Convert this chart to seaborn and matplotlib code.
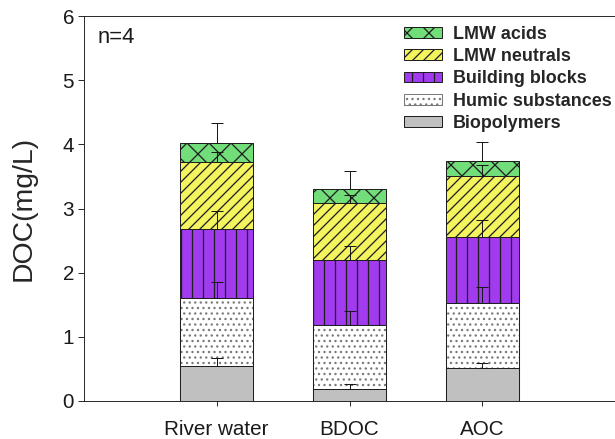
import matplotlib
matplotlib.use("Agg")
import matplotlib.pyplot as plt
import seaborn as sns
import numpy as np
from matplotlib.patches import Patch

# ---- data ----
categories = ["River water", "BDOC", "AOC"]
biopolymers = [0.55, 0.19, 0.52]
humic_substances = [1.05, 0.99, 1.00]
building_blocks = [1.08, 1.02, 1.04]
lmw_neutrals = [1.05, 0.88, 0.95]
lmw_acids = [0.29, 0.22, 0.23]

biopolymers_err = [0.12, 0.07, 0.07]
humic_err = [0.26, 0.22, 0.26]
building_err = [0.28, 0.22, 0.26]
neutrals_err = [0.15, 0.13, 0.17]
acids_err = [0.31, 0.28, 0.30]

layer_names = ["Biopolymers", "Humic substances", "Building blocks",
               "LMW neutrals", "LMW acids"]
layer_values = [biopolymers, humic_substances, building_blocks,
                lmw_neutrals, lmw_acids]
layer_errors = [biopolymers_err, humic_err, building_err, neutrals_err,
                acids_err]
layer_colors = ["#C0C0C0", "#FFFFFF", "#A23BEF", "#F4F45E", "#72DE7A"]
layer_hatches = ["", "..", "|", "//", "x"]
hatch_colors = ["#1f1f1f", "#7a7a7a", "#1f1f1f", "#1f1f1f", "#1f1f1f"]

sns.set_style("ticks")
plt.rcParams["font.family"] = ["Liberation Sans", "DejaVu Sans"]
plt.rcParams["hatch.linewidth"] = 1.4

DPI = 66
fig = plt.figure(figsize=(615 / DPI, 439 / DPI), dpi=DPI)
ax = fig.add_axes([84 / 615, 38 / 439, 531 / 615, 385 / 439])

cum = np.cumsum(np.array(layer_values), axis=0)

# draw from top layer to bottom so lower layers overlay cumulative bars
for i in range(len(layer_names) - 1, -1, -1):
    sns.barplot(x=categories, y=cum[i], color=layer_colors[i],
                saturation=1, errorbar=None, width=0.55,
                hatch=layer_hatches[i], edgecolor=hatch_colors[i],
                linewidth=1.1, ax=ax)
    if hatch_colors[i] != "#1f1f1f":
        # dark outline over the lighter hatch
        sns.barplot(x=categories, y=cum[i], color="#1f1f1f", fill=False,
                    saturation=1, errorbar=None, width=0.55,
                    linewidth=1.1, ax=ax)

xpos = np.arange(len(categories))
for i in range(len(layer_names)):
    err = np.array(layer_errors[i])
    ax.errorbar(xpos, cum[i], yerr=[np.zeros_like(err), err], fmt="none",
                ecolor="#1a1a1a", elinewidth=1.1, capsize=6.5,
                capthick=1.1, zorder=5)

ax.set_xlim(-1, 3)
ax.set_ylim(0, 6)
ax.set_yticks(range(0, 7))
ax.set_ylabel("DOC(mg/L)", fontsize=31)
ax.yaxis.set_label_coords(-0.09, 0.5)
ax.set_xlabel("")

ax.tick_params(axis="y", labelsize=22.5, length=7, width=1, direction="out",
               pad=4, colors="#1a1a1a")
ax.tick_params(axis="x", labelsize=22.5, length=5, width=1, direction="out",
               pad=16, colors="#1a1a1a")
for s in ["left", "bottom", "top"]:
    ax.spines[s].set_visible(True)
    ax.spines[s].set_linewidth(1.0)
    ax.spines[s].set_color("#1a1a1a")
ax.spines["right"].set_visible(False)

ax.text(0.026, 0.93, "n=4", transform=ax.transAxes, fontsize=24,
        ha="left", va="baseline", color="#1a1a1a")

handles = [Patch(facecolor=layer_colors[i], edgecolor=hatch_colors[i],
                 hatch=layer_hatches[i], linewidth=1.1, label=layer_names[i])
           for i in range(len(layer_names) - 1, -1, -1)]
leg = ax.legend(handles=handles, loc="upper right",
                bbox_to_anchor=(0.993, 0.975), frameon=False, borderpad=0,
                borderaxespad=0, handlelength=2.1, handleheight=0.55,
                handletextpad=0.6, labelspacing=0.3,
                prop={"weight": "bold", "size": 19.5,
                      "family": ["Liberation Sans", "DejaVu Sans"]})

fig.savefig("out.png", dpi=DPI)
